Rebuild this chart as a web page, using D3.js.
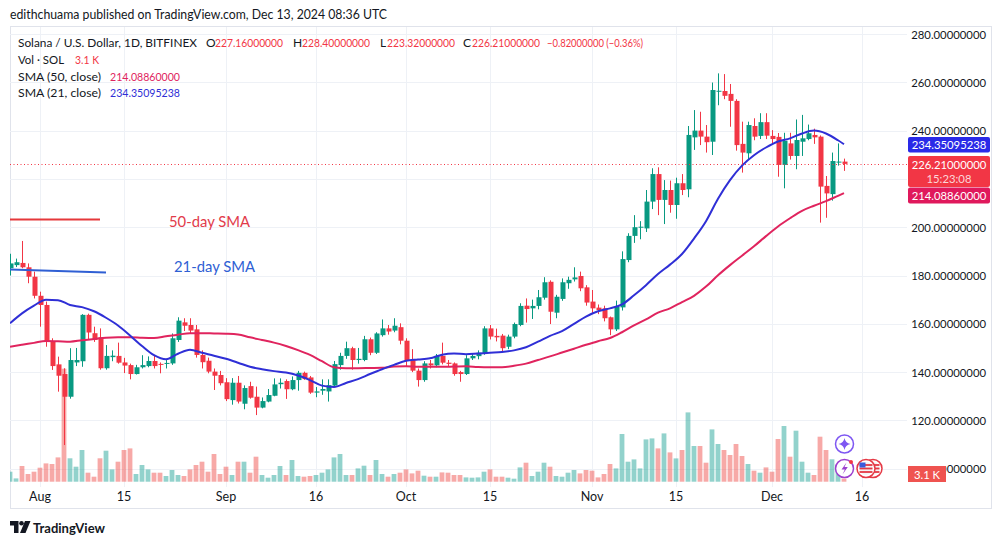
<!DOCTYPE html>
<html><head><meta charset="utf-8">
<script src="https://cdn.jsdelivr.net/npm/d3@7"></script>
<style>
body{margin:0;background:#fff;}
svg text{font-family:Lato,"Open Sans",sans-serif;}
</style>
</head><body>
<svg id="c" width="1005" height="545"></svg>
<script>
// ---------- DATA ----------
const firstDay = "2024-07-27", lastDay = "2024-12-13";
const open = [183,184.3,185.2,183.4,179.5,171.6,167.8,152.6,143.2,139.2,129.8,144,144.5,163.7,156.1,154.4,141.6,146.2,146.7,144,142.9,139.2,142,142.5,144.6,143.4,143.5,143.6,153.3,160.6,159.5,157.7,147.1,144.7,140.2,138.8,135.8,128.4,135.6,126.9,134.2,129.8,125.3,127.8,130.2,135,136.3,132.9,136.7,139.7,137.8,131.5,132.3,132,134.4,142.9,146.7,149.9,145,145,153.6,148,155.3,158.1,157.2,158.6,153,145,140.6,136.7,143.6,142.8,146.7,143.9,143.6,140,139.2,145.7,146.6,147.8,158.1,155,155.1,150.5,154.7,159.5,167.5,166.4,167.4,170.8,177.4,164.6,170.3,176.8,178.4,179.8,175.1,169.2,166.7,166.4,162.7,157.7,166.8,186.4,196.4,200,199.5,210.6,222,211.3,215.4,209.2,218.2,215.7,237.2,240,237.5,235.4,256.3,256.4,255.2,252.3,234.5,230.6,241.9,237.8,243.5,237.8,237.4,225.8,234.7,229.5,235.4,236.5,238.2,237.5,217.1,213.7,226.8,227.16];
const high = [189,187,194.3,185,181.6,173.3,169.2,154,146.4,141.6,149.9,150,164,164.2,158.8,158.1,151.2,149,152.2,145.9,143.5,143,147,146.5,147,144,145,156,162.7,162.3,162.3,159.5,149,146,141.5,140.5,137.5,137.5,138.4,134.5,136,134,129.5,133,137.4,137.4,137,138.2,140.5,140.2,138.4,133.8,137,137,144.6,148,152.6,150.5,150,155,154.3,156.5,161.8,159.5,162.3,160.2,154,149.5,141.5,144.5,145,147.5,152.2,145,144,140.5,147,147.5,149,159,159.5,158,155.8,155.5,160.5,168.5,170.5,170,174,179.3,178,172,178.8,179.5,183.4,181.6,176,174,168,167.5,163,169.6,190,197.5,205,202.5,215.4,224.4,224.8,219.5,219.3,220.5,222,241.9,248.5,247.8,242.3,259.9,263.7,263.4,259.3,253,243.7,243.7,245.1,247.2,247.2,240.2,239,239.1,239.1,244.6,246.5,242.5,240.8,238,221.2,230.9,234.7,228.4];
const low = [180,183.5,183,176.8,170.5,158.8,150.5,140.9,131.9,109.8,129,142.5,142.2,153.3,152.5,141,141,144.5,143.5,139.6,137,139,141.5,142,141.5,139.5,141.5,143,152.5,157,156,146,141.5,139.5,132.6,134.5,128,126.5,127,124.6,129,122.2,125,127.5,130,133.2,128.9,132.5,132.3,136.8,131,129.6,130.6,127.8,134,141,145.5,141,143.5,144.5,147,147.5,154.7,155.5,156.5,151.5,142.5,140,134,136,141.5,142,143.2,142.5,138.5,136,138.8,145,145.3,147.2,153.5,152.7,148.5,149.5,154,159,160.5,162,166,170,159.9,162.3,169.5,174.5,177.5,173.5,167.5,164.5,164,161,155.3,157,165.5,185.5,193.5,195,198,207.5,205,201.3,206,203.5,213.3,212.4,232,234,230.9,229.9,250.5,253,241.6,231.7,222.6,228,236,236.5,236.5,234.7,220.9,216.1,228,224,229.5,236,234.5,201.9,203.9,211,225.5,223.32];
const close = [185,185.5,183.4,179.5,171.6,167.8,152.6,142.5,138.5,129.8,145,145,163.7,156.4,153.3,141.6,146.7,146.8,143.9,142.7,139.2,142,142.9,144.6,142.5,143.2,143.8,154,161.3,159.2,157.2,147.1,144.1,140.2,138.5,135.4,128.8,135.6,127.8,133.4,129.4,125.3,128,130.5,134.9,135.6,132.9,136.7,139.7,137.1,131.5,132,133,134.6,143.3,146.7,149.9,145,145.5,153.6,148,156,158.1,156.8,159.2,153,144.7,140.6,136.7,143.6,142.8,146.7,143.9,143.4,139.2,139.2,145.7,146.7,148,158.1,154.7,154.4,149.9,154.7,159.9,167.4,166.1,167.4,171,177.2,165,171.2,177.2,178.2,179.2,174.7,168.8,166.4,165.7,162.3,157.7,167.1,186.8,196.4,200,200.2,210.6,222,211.3,215.4,209.2,218.2,215.4,238.2,240,237.5,235.2,256.8,256.5,254.4,252.3,234,230.9,242.3,237.5,243.5,237.9,236.5,225.8,235.8,229.5,236.1,236.8,238.9,237.2,216.8,214,227.4,227.16,226.21];
const volume = [10,3.3,15.7,7.7,10,14,18.3,17.7,24.3,113,23.4,15,31.7,9,5,23.4,31,12.3,20,31.7,33.3,7.7,16.7,12.3,9,9,5.7,11.7,6.7,5.7,12.3,16.7,20,10,27.7,7.7,15,6.7,20,20,9,25,6.7,4,6.7,15.7,6.7,21.7,5.7,5,5.7,6.7,9,12.3,24.3,27.7,6.7,6.7,13.3,16,6.7,21.7,7.7,5,7.7,9,12.3,8.3,11,6,5,5,9.3,9,6.7,6.7,4.3,4,4.3,10,12.3,5,5,4,3,14.3,19,5.7,10,19,15,5.7,5,9,11.7,8.3,11.7,11,4.3,7.7,17.7,13.3,47.7,20,22.3,13.3,42.3,43.3,33.3,48.3,29.3,23.3,31.7,69.3,35.7,35.7,19,52.3,37.7,31.7,26.7,37.7,25.7,17.7,11,9,14.3,10,42.7,55.7,25,51,20,9,6.7,45,31.7,22.4,15,3.1];
// moving averages, read every second day from Jul 27 plus the last day
const sma21 = [160.2,164.3,167.5,170,169.8,167.8,166.9,165.2,162.5,159.3,155.2,150.8,147,145.3,147.6,149.3,148,146.8,145.5,143.9,142.2,141.2,140.4,139.8,138.6,136.7,134.4,133.8,135.5,137.1,139.2,141.2,143,144.7,145.2,145.7,147.2,147.7,147.4,147.7,148,148.3,149,150.3,152.6,155,157,160,163,165.2,166.4,168,171.8,176,180.6,184.5,188.9,195.3,202.5,211.8,219.5,225.5,229.8,233,235.5,236.8,238.8,240,238.8,236,234.35];
const sma50 = [150.5,151.3,152.1,152.9,152.8,152.6,153.2,153.7,154.2,154.4,154.4,154.2,154.1,154.8,155.5,156.1,156.1,156,155.9,155.6,154.4,153.3,152.2,150.8,149.1,147.1,144.5,142,141.6,141.6,141.7,141.8,142.3,142.4,142.2,142.2,142.2,142.3,142.4,142.1,142,142,142.6,143.5,145,146.5,148.1,149.7,151.3,152.8,154.1,156.5,159.3,161.8,164.6,166.4,169,171.6,175.4,180.1,184.3,188.2,192.1,196.3,200.3,203.7,206.8,208.9,210.8,213,214.09];
const priceTicks = [100,120,140,160,180,200,220,240,260,280];
const hiddenPriceTicks = [220]; // covered by the last-price label in the reference
const dateTicks = ["2024-08-01","2024-08-15","2024-09-01","2024-09-16","2024-10-01","2024-10-15","2024-11-01","2024-11-15","2024-12-01","2024-12-16"];
const dateTickLabels = ["Aug","15","Sep","16","Oct","15","Nov","15","Dec","16"];
const lastValues = {sma21:"234.35095238", sma50:"214.08860000", close:"226.21000000", countdown:"15:23:08", vol:"3.1 K", change:"\u22120.82000000 (\u22120.36%)"};

// ---------- SETUP ----------
const svg = d3.select("#c");
const parse = d3.utcParse("%Y-%m-%d");
const days = d3.utcDay.range(parse(firstDay), d3.utcDay.offset(parse(lastDay), 1));
const smaDays = d3.utcDay.range(parse(firstDay), parse(lastDay), 2).concat([parse(lastDay)]);
const candles = days.map((d,i)=>({d, o:open[i], h:high[i], l:low[i], c:close[i], v:volume[i]}));

const L=10, R=907, T=27, B=487;
const x = d3.scaleUtc().domain([parse("2024-08-01"), parse("2024-12-16")]).range([40, 862]);
const y = d3.scaleLinear().domain([100, 280]).range([468.7, 34]);
const yv = d3.scaleLinear().domain([0, 100]).range([481.7, 381.7]);

const UP="#089981", DN="#f23645", C21="#2f2fd6", C50="#e0245e", TXT="#131722", GRID="#eef1f6";

const defs = svg.append("defs");
defs.append("clipPath").attr("id","plot").append("rect")
  .attr("x",L).attr("y",T).attr("width",R-L).attr("height",B-T);
defs.append("clipPath").attr("id","volbox").append("rect")
  .attr("x",946).attr("y",T).attr("width",60).attr("height",B-T);

// header
svg.append("text").attr("x",10).attr("y",14).attr("dominant-baseline","central")
  .attr("font-size",12.5).attr("fill",TXT).attr("textLength",377).attr("lengthAdjust","spacingAndGlyphs")
  .text("edithchuama published on TradingView.com, Dec 13, 2024 08:36 UTC");

// frame
svg.append("rect").attr("x",10.5).attr("y",26.5).attr("width",981).attr("height",482)
  .attr("fill","none").attr("stroke","#e0e3eb");

// grid
const g = svg.append("g");
g.selectAll(".hg").data(priceTicks).join("line")
  .attr("x1",L).attr("x2",R).attr("y1",d=>Math.round(y(d))+0.5).attr("y2",d=>Math.round(y(d))+0.5)
  .attr("stroke",GRID);
g.selectAll(".vg").data(dateTicks).join("line")
  .attr("x1",d=>Math.round(x(parse(d)))+0.5).attr("x2",d=>Math.round(x(parse(d)))+0.5)
  .attr("y1",T).attr("y2",B).attr("stroke",GRID);

const plot = svg.append("g").attr("clip-path","url(#plot)");

// volume
plot.selectAll(".vol").data(candles).join("rect")
  .attr("x",d=>x(d.d)-2.4).attr("width",4.8)
  .attr("y",d=>yv(d.v)).attr("height",d=>yv(0)-yv(d.v))
  .attr("fill",d=>d.c>=d.o?"#26a69a":"#ef5350").attr("opacity",0.5);

// candles
plot.selectAll(".wick").data(candles).join("line")
  .attr("x1",d=>Math.round(x(d.d))+0.5).attr("x2",d=>Math.round(x(d.d))+0.5)
  .attr("y1",d=>y(d.h)).attr("y2",d=>y(d.l))
  .attr("stroke",d=>d.c>=d.o?UP:DN).attr("stroke-width",1);
plot.selectAll(".body").data(candles).join("rect")
  .attr("x",d=>Math.round(x(d.d))-1.5).attr("width",5)
  .attr("y",d=>y(Math.max(d.o,d.c)))
  .attr("height",d=>Math.max(1,Math.abs(y(d.o)-y(d.c))))
  .attr("fill",d=>d.c>=d.o?UP:DN);

// SMA lines
const line = d3.line().x(d=>x(d[0])).y(d=>y(d[1])).curve(d3.curveMonotoneX);
plot.append("path").datum(smaDays.map((d,i)=>[d,sma50[i]]))
  .attr("d",line).attr("fill","none").attr("stroke",C50).attr("stroke-width",2);
plot.append("path").datum(smaDays.map((d,i)=>[d,sma21[i]]))
  .attr("d",line).attr("fill","none").attr("stroke",C21).attr("stroke-width",2);

// last price dotted line
const lastY = Math.round(y(close[close.length-1]))+0.5;
svg.append("line").attr("x1",L).attr("x2",R).attr("y1",lastY).attr("y2",lastY)
  .attr("stroke",DN).attr("stroke-dasharray","1,2.5");

// annotations (drawings)
svg.append("line").attr("x1",10).attr("x2",100).attr("y1",219.5).attr("y2",219.5)
  .attr("stroke","#e5383b").attr("stroke-width",2);
svg.append("text").attr("x",169).attr("y",221).attr("dominant-baseline","central")
  .attr("font-size",15).attr("fill","#e23b4b").attr("textLength",81).attr("lengthAdjust","spacingAndGlyphs").text("50-day SMA");
svg.append("line").attr("x1",10).attr("x2",106).attr("y1",269.5).attr("y2",272.5)
  .attr("stroke","#2f5fd4").attr("stroke-width",2);
svg.append("text").attr("x",174).attr("y",265.5).attr("dominant-baseline","central")
  .attr("font-size",15).attr("fill","#2f5fd4").attr("textLength",81).attr("lengthAdjust","spacingAndGlyphs").text("21-day SMA");

// legend
function t(xp, yp, s, col, w, size){
  const e = svg.append("text").attr("x",xp).attr("y",yp).attr("dominant-baseline","central")
    .attr("font-size",size||12).attr("fill",col).text(s);
  if(w) e.attr("textLength",w).attr("lengthAdjust","spacingAndGlyphs");
  return e;
}
t(18,42,"Solana / U.S. Dollar, 1D, BITFINEX",TXT,179);
[["O",206,open],["H",293,high],["L",380,low],["C",463,close]].forEach(([k,xp,arr])=>{
  t(xp,42,k,TXT);
  t(xp+(k==="L"?7:9),42,arr[arr.length-1].toFixed(8),DN,68,11);
});
t(547,42,lastValues.change,DN,96,11);
t(18,59,"Vol \u00b7 SOL",TXT,46);
t(75,59,lastValues.vol,DN,24);
t(18,76,"SMA (50, close)",TXT,83);
t(110,76,lastValues.sma50,C50,70);
t(18,92,"SMA (21, close)",TXT,83);
t(110,92,lastValues.sma21,C21,70);

// price axis labels (100 is partly covered by the volume label)
svg.selectAll(".yl").data(priceTicks.filter(d=>!hiddenPriceTicks.includes(d))).join("text")
  .attr("x",986).attr("y",d=>y(d)).attr("text-anchor","end").attr("dominant-baseline","central")
  .attr("font-size",11.3).attr("fill",TXT)
  .attr("clip-path",d=>d===100?"url(#volbox)":null)
  .text(d=>d.toFixed(8));

// date axis labels
svg.selectAll(".xl").data(dateTicks).join("text")
  .attr("x",(d)=>x(parse(d))).attr("y",496.5).attr("text-anchor","middle").attr("dominant-baseline","central")
  .attr("font-size",12.5).attr("fill",TXT).text((d,i)=>dateTickLabels[i]);

// value boxes on price scale
function box(y0, h, fill, lines){
  svg.append("rect").attr("x",908).attr("y",y0).attr("width",82).attr("height",h).attr("rx",2).attr("fill",fill);
  lines.forEach(l=>{
    svg.append("text").attr("x",949).attr("y",l.y).attr("text-anchor","middle").attr("dominant-baseline","central")
      .attr("font-size",11.3).attr("fill",l.c||"#fff").text(l.s);
  });
}
box(137, 15.5, "#2a2ae8", [{s:lastValues.sma21, y:144.5}]);
box(156, 31, "#f23645", [{s:lastValues.close, y:164.5},{s:lastValues.countdown, y:178.5, c:"#fcd6d9"}]);
box(187.5, 16, "#e0195c", [{s:lastValues.sma50, y:195.5}]);
// volume box
svg.append("rect").attr("x",908).attr("y",466).attr("width",38).attr("height",16).attr("fill","#ef5350");
svg.append("text").attr("x",927).attr("y",474).attr("text-anchor","middle").attr("dominant-baseline","central")
  .attr("font-size",11.3).attr("fill","#fff").text(lastValues.vol);

// event icons
const ic = svg.append("g");
ic.append("circle").attr("cx",844.5).attr("cy",444).attr("r",9).attr("fill","#fff").attr("stroke","#7e57f2").attr("stroke-width",1.5);
ic.append("path").attr("d","M844.5,438 Q845.3,443.2 850.5,444 Q845.3,444.8 844.5,450 Q843.7,444.8 838.5,444 Q843.7,443.2 844.5,438Z").attr("fill","#7e57f2");
ic.append("circle").attr("cx",844.5).attr("cy",468.5).attr("r",9).attr("fill","#fff").attr("stroke","#9c3fcf").attr("stroke-width",1.5);
ic.append("path").attr("d","M846.5,462.5 L841.5,469.5 L844.8,469.5 L842.5,474.5 L847.8,467 L844.5,467 Z").attr("fill","#9c3fcf");
ic.append("circle").attr("cx",851).attr("cy",462).attr("r",2).attr("fill","#f23645");
// flags
[873,866].forEach((cx)=>{
  const f = ic.append("g");
  f.append("circle").attr("cx",cx).attr("cy",468.5).attr("r",9).attr("fill","#fff").attr("stroke","#e53945").attr("stroke-width",1.5);
  f.append("circle").attr("cx",cx).attr("cy",468.5).attr("r",6.5).attr("fill","#f4f4f4");
  [465,468.5,472].forEach(yy=>f.append("rect").attr("x",cx-6.5).attr("y",yy-0.9).attr("width",13).attr("height",1.8).attr("fill","#e53945"));
  f.append("rect").attr("x",cx-6.5).attr("y",462.5).attr("width",6).attr("height",5).attr("fill","#3b5bdb");
});

// TradingView logo
const lg = svg.append("g").attr("fill",TXT);
lg.append("path").attr("d","M10,521 H18.5 V533 H14 V525.5 H10 Z");
lg.append("circle").attr("cx",21.5).attr("cy",523.3).attr("r",2.3);
lg.append("path").attr("d","M25,521 H30.5 L25.5,533 H20 Z");
svg.append("text").attr("x",33).attr("y",527.5).attr("dominant-baseline","central")
  .attr("font-size",14).attr("font-weight",700).attr("fill",TXT).attr("textLength",72).attr("lengthAdjust","spacingAndGlyphs").text("TradingView");
</script>
</body></html>
